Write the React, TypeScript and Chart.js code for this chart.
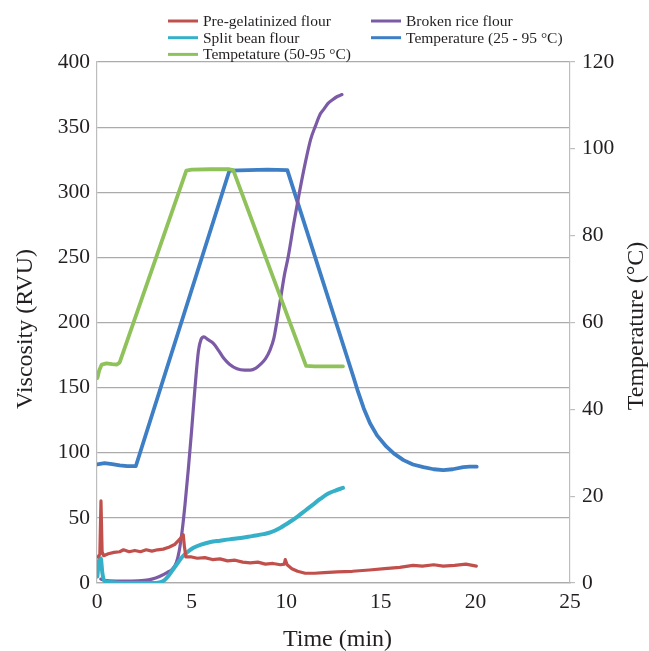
import React, { useEffect, useRef } from "react";
import { Chart, registerables } from "chart.js";

Chart.register(...registerables);

const FONT = '"Liberation Serif", "Times New Roman", serif';

// Pre-gelatinized flour (viscosity, RVU)
const redTime = [0.05, 0.15, 0.21, 0.27, 0.35, 0.6, 0.9, 1.2, 1.4, 1.7, 2.0, 2.3, 2.6, 2.9, 3.2, 3.5, 3.8, 4.1, 4.4, 4.56, 4.62, 4.7, 5.0, 5.3, 5.7, 6.1, 6.5, 6.9, 7.3, 7.7, 8.1, 8.5, 8.9, 9.3, 9.7, 9.9, 9.95, 10.05, 10.3, 10.6, 11.0, 11.5, 12.0, 12.7, 13.5, 14.4, 15.2, 16.0, 16.7, 17.2, 17.8, 18.3, 18.9, 19.5, 20.05];
const redVisc = [20, 22, 63, 24, 21, 22.5, 23.5, 24, 25.5, 24, 25, 24, 25.5, 24.5, 25.5, 26, 27.5, 29.5, 34, 37, 28, 20, 20, 19, 19.5, 18, 18.5, 17, 17.5, 16, 15.5, 16, 14.5, 15, 14, 14.5, 18, 14, 11, 9, 7.5, 7.5, 8, 8.5, 9, 10, 11, 12, 13.5, 13, 14, 13, 13.5, 14.5, 13];

// Split bean flour (viscosity, RVU)
const cyanTime = [0.02, 0.1, 0.2, 0.28, 0.4, 0.8, 1.5, 2.2, 2.9, 3.3, 3.55, 3.75, 3.95, 4.2, 4.5, 4.8, 5.1, 5.5, 6.0, 6.5, 7.0, 7.6, 8.2, 8.8, 9.2, 9.7, 10.2, 10.6, 11.0, 11.4, 11.8, 12.2, 12.6, 13.0];
const cyanVisc = [5, 17, 19, 8, 1.5, 0.5, 0, 0, 0, 0.5, 2, 5, 9, 14, 20, 24, 27, 29.5, 31.5, 32.5, 33.5, 34.5, 36, 37.5, 39, 42.5, 47, 51, 55.5, 60, 64.5, 68.5, 71, 73];

// Tempetature (50-95 °C)
const greenTime = [0.02, 0.12, 0.25, 0.5, 0.8, 1.05, 1.2, 4.72, 5.0, 6.0, 7.0, 7.2, 11.05, 11.5, 12.3, 13.0];
const greenTemp = [47.2, 49, 50.3, 50.6, 50.4, 50.3, 50.8, 95, 95.2, 95.3, 95.3, 95.1, 50, 49.9, 49.9, 49.9];

// Broken rice flour (viscosity, RVU)
const purpleTime = [0.2, 0.4, 1.0, 1.8, 2.5, 2.9, 3.3, 3.7, 4.0, 4.2, 4.35, 4.5, 4.65, 4.83, 5.0, 5.18, 5.36, 5.5, 5.65, 5.85, 6.15, 6.45, 6.7, 7.0, 7.4, 7.8, 8.1, 8.4, 8.65, 8.9, 9.15, 9.35, 9.5, 9.7, 9.9, 10.1, 10.4, 10.7, 11.0, 11.3, 11.55, 11.8, 12.0, 12.2, 12.45, 12.7, 12.95];
const purpleVisc = [3, 2, 1.5, 1.5, 2, 3, 5, 8, 11, 16, 25, 40, 60, 88, 117, 150, 178, 187, 189, 187, 184, 178, 172.5, 168, 164.5, 163.5, 163.5, 165, 168, 172, 179, 188, 200, 218, 236, 250, 276, 300, 322, 341, 351, 360, 364, 368, 371, 373.5, 375];

// Temperature (25 - 95 °C)
const blueTime = [0, 0.4, 0.8, 1.2, 1.6, 2.05, 7.0, 8.0, 9.0, 10.06, 13.55, 13.8, 14.1, 14.43, 14.8, 15.3, 15.7, 16.2, 16.7, 17.25, 17.8, 18.3, 18.8, 19.36, 19.7, 20.07];
const blueTemp = [27.3, 27.6, 27.4, 27.1, 26.9, 26.9, 95, 95.1, 95.2, 95.1, 47.5, 44, 40.2, 36.8, 34, 31.4, 29.8, 28.3, 27.3, 26.7, 26.2, 26.0, 26.2, 26.7, 26.8, 26.8];

const seriesLabels = ["Pre-gelatinized flour", "Split bean flour", "Tempetature (50-95 °C)", "Broken rice flour", "Temperature (25 - 95 °C)"];
const seriesColors = ["#c1504c", "#35b0c8", "#8fc25a", "#7c5ba6", "#3d7ec5"];

const xTitle = "Time (min)";
const yTitle = "Viscosity (RVU)";
const y1Title = "Temperature (°C)";

const toPoints = (xs: number[], ys: number[]) => xs.map((x, i) => ({ x, y: ys[i] }));

const overlayPlugin = {
  id: "overlay",
  afterDraw(chart: any) {
    const ctx = chart.ctx;
    const area = chart.chartArea;
    ctx.save();
    // legend
    ctx.font = `15.5px ${FONT}`;
    ctx.textBaseline = "middle";
    ctx.textAlign = "left";
    chart.data.datasets.forEach((ds: any, i: number) => {
      const col = i < 3 ? 0 : 1;
      const row = i % 3;
      const lx = col === 0 ? 168 : 371;
      const y = 21 + row * 16.7;
      ctx.strokeStyle = ds.borderColor;
      ctx.lineWidth = 3;
      ctx.beginPath();
      ctx.moveTo(lx, y);
      ctx.lineTo(lx + 30, y);
      ctx.stroke();
      ctx.fillStyle = "#231f20";
      ctx.fillText(ds.label, lx + 35, y + 1);
    });
    // axis titles
    ctx.fillStyle = "#231f20";
    ctx.font = `24px ${FONT}`;
    ctx.textAlign = "center";
    ctx.textBaseline = "middle";
    ctx.fillText(xTitle, (area.left + area.right) / 2 + 4, 640);
    ctx.save();
    ctx.translate(26, 329);
    ctx.rotate(-Math.PI / 2);
    ctx.fillText(yTitle, 0, 0);
    ctx.restore();
    ctx.save();
    ctx.translate(637, 326);
    ctx.rotate(-Math.PI / 2);
    ctx.fillText(y1Title, 0, 0);
    ctx.restore();
    ctx.restore();
  },
};

export default function App() {
  const canvasRef = useRef<HTMLCanvasElement | null>(null);

  useEffect(() => {
    document.body.style.margin = "0";
    const canvas = canvasRef.current;
    if (!canvas) return;
    const gridColor = "#ababab";
    const tickFont = { family: FONT, size: 21.5 };
    const datasets = [
      { data: toPoints(redTime, redVisc), yAxisID: "y", tension: 0, lw: 3.2 },
      { data: toPoints(cyanTime, cyanVisc), yAxisID: "y", tension: 0.4, lw: 4, mono: true },
      { data: toPoints(greenTime, greenTemp), yAxisID: "y1", tension: 0, lw: 3.8 },
      { data: toPoints(purpleTime, purpleVisc), yAxisID: "y", tension: 0.4, lw: 3.2, mono: true },
      { data: toPoints(blueTime, blueTemp), yAxisID: "y1", tension: 0, lw: 3.8 },
    ].map((d, i) => ({
      label: seriesLabels[i],
      data: d.data,
      yAxisID: d.yAxisID,
      borderColor: seriesColors[i],
      backgroundColor: seriesColors[i],
      borderWidth: d.lw,
      pointRadius: 0,
      tension: d.tension,
      cubicInterpolationMode: d.mono ? "monotone" : "default",
      borderCapStyle: "round",
      borderJoinStyle: "round",
      fill: false,
    }));

    const chart = new Chart(canvas, {
      type: "line",
      data: { datasets } as any,
      options: {
        animation: false,
        responsive: true,
        maintainAspectRatio: false,
        layout: { padding: { top: 62, left: 0, right: 0, bottom: 0 } },
        plugins: { legend: { display: false }, tooltip: { enabled: false }, title: { display: false } },
        scales: {
          x: {
            type: "linear",
            min: 0,
            max: 25,
            ticks: { stepSize: 5, font: tickFont, color: "#231f20", padding: 6, maxRotation: 0 },
            grid: { display: false, drawTicks: false },
            border: { display: true, color: gridColor, width: 1.2 },
            afterFit: (s: any) => { s.height = 68; },
          },
          y: {
            position: "left",
            min: 0,
            max: 400,
            ticks: { stepSize: 50, font: tickFont, color: "#231f20", padding: 7 },
            grid: { color: gridColor, lineWidth: 1.2, drawTicks: false },
            border: { display: true, color: "#bdbdbd", width: 1.2 },
            afterFit: (s: any) => { s.width = 97; },
          },
          y1: {
            position: "right",
            min: 0,
            max: 120,
            ticks: { stepSize: 20, font: tickFont, color: "#231f20", padding: 7 },
            grid: { drawOnChartArea: false, drawTicks: true, tickLength: 5, color: "#bdbdbd", lineWidth: 1.2 },
            border: { display: true, color: "#bdbdbd", width: 1.2 },
            afterFit: (s: any) => { s.width = 79; },
          },
        },
      } as any,
      plugins: [overlayPlugin],
    });
    return () => chart.destroy();
  }, []);

  return (
    <div style={{ width: 649, height: 651, position: "relative" }}>
      <canvas ref={canvasRef} />
    </div>
  );
}
